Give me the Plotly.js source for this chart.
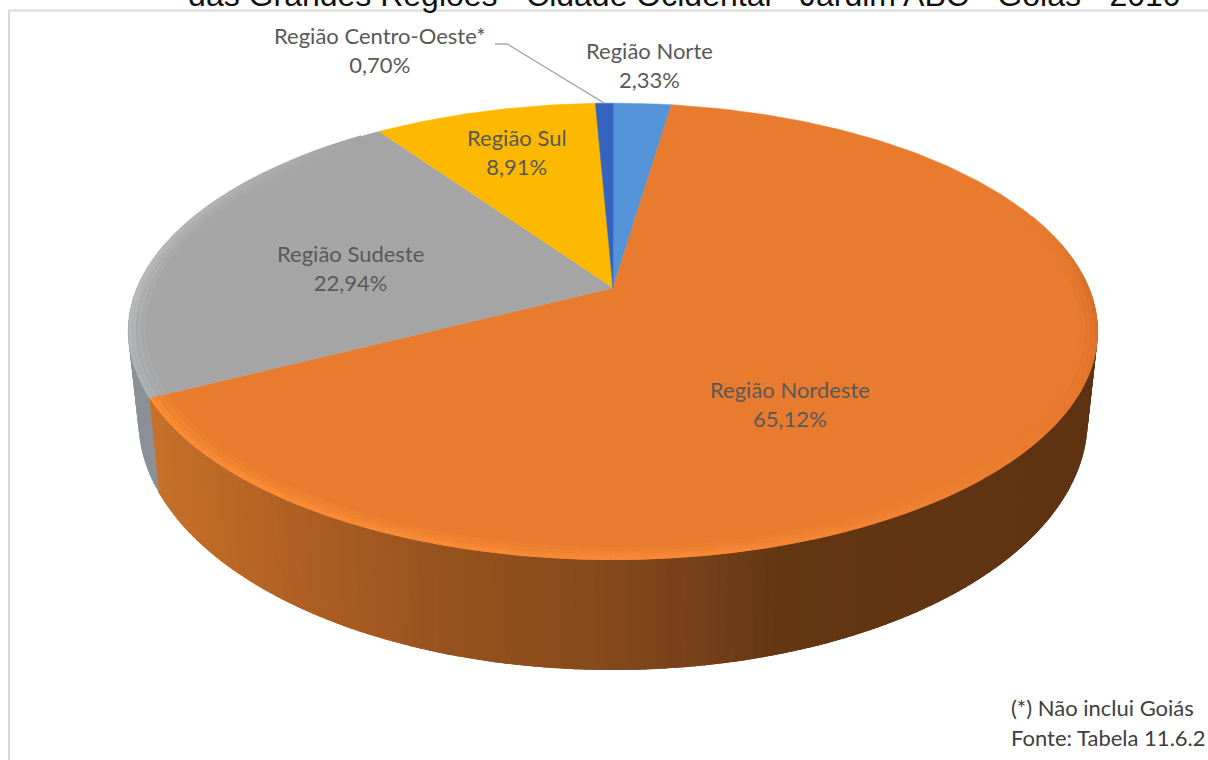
<!DOCTYPE html>
<html><head><meta charset="utf-8">
<script src="https://cdn.plot.ly/plotly-3.0.1.min.js"></script>
<style>html,body{margin:0;padding:0;background:#fff;overflow:hidden}#chart{width:1208px;height:760px}</style>
</head><body><div id="chart"></div>
<script>
const categories = ["Região Norte","Região Nordeste","Região Sudeste","Região Sul","Região Centro-Oeste*"];
const shares = [2.33,65.12,22.94,8.91,0.70];
const topColors = ["#5593D8","#E97B2E","#A5A5A5","#FCB900","#3464C0"];
const wallColors = ["#3f6c9c","#8a4a1c","#8b9096","#a07a00","#254a90"];
const titleText = "das Grandes Regiões - Cidade Ocidental - Jardim ABC - Goiás - 2010";
const footLines = ["(*) Não inclui Goiás","Fonte: Tabela 11.6.2"];
const labelX = [649,790,350,517,380];
const labelY = [65,404,268,152,50];

const cx=613, k=0.19;
const topFace={y0:288,A:476,B:220};
const lowFace={y0:372.5,A:466,B:241};
function proj(face,deg,r){
  const t=deg*Math.PI/180,u=r*Math.sin(t),v=r*Math.cos(t),d=1+k*v;
  return [cx+face.A*u/d, face.y0-face.B*v/d];
}
function range(a,b,n){const o=[];for(let i=0;i<=n;i++)o.push(a+(b-a)*i/n);return o;}
const edges=[0];shares.forEach(s=>edges.push(edges[edges.length-1]+s*3.6));
const traces=[];
function poly(pts,color,width){
  traces.push({type:"scatter",mode:"lines",x:pts.map(p=>p[0]),y:pts.map(p=>p[1]),
    fill:"toself",fillcolor:color,line:{color:color,width:width},hoverinfo:"skip",showlegend:false});
}
function path(pts,color,width){
  traces.push({type:"scatter",mode:"lines",x:pts.map(p=>p[0]),y:pts.map(p=>p[1]),
    line:{color:color,width:width},hoverinfo:"skip",showlegend:false});
}
function interp(stops,x,fade){
  let c=stops[stops.length-1][1];
  if(x<=stops[0][0]) c=stops[0][1];
  else for(let i=1;i<stops.length;i++){ if(x<=stops[i][0]){const f=(x-stops[i-1][0])/(stops[i][0]-stops[i-1][0]);
    c=stops[i-1][1].map((a,j)=>a+(stops[i][1][j]-a)*f);break;}}
  if(fade) c=c.map((a,j)=>a+(fade[1][j]-a)*fade[0]);
  return `rgb(${c.map(Math.round)})`;
}
// wall colour ramp along the front of the cylinder
const ramp=[[140,[200,114,42]],[300,[174,95,34]],[450,[150,82,30]],[600,[133,73,28]],[700,[118,64,26]],[780,[100,54,18]],[1110,[94,50,18]]];
// side wall: drawn in overlapping strips so no seams show
for(let s=0;s<shares.length;s++){
  const a=edges[s],b=edges[s+1],n=Math.max(1,Math.round(b-a));
  const th=range(a,b,n);
  for(let i=0;i<n;i++){
    const mid=(th[i]+th[i+1])/2;
    if(Math.cos(mid*Math.PI/180)>0.25) continue;
    const q=proj(topFace,mid,1);
    const col=s===1?interp(ramp,q[0]):wallColors[s];
    const e=Math.min(th[i+1]+1.2,edges[s+1]+0.2);
    poly([proj(topFace,th[i],1),proj(topFace,e,1),proj(lowFace,e,1),proj(lowFace,th[i],1)],col,0);
  }
}
// top faces
for(let s=0;s<shares.length;s++){
  const a=edges[s],b=edges[s+1],n=Math.max(2,Math.round(b-a));
  const pts=[proj(topFace,0,0)].concat(range(a,b,n).map(t=>proj(topFace,t,1)));
  pts.push(pts[0]);
  poly(pts,topColors[s],0.5);
}
// soft bevel along the rim of the top face, fading into the slice colour
const baseOrange=[233,123,46], baseGray=[165,165,165];
const bevelOrange=[[70,[233,123,46]],[95,[214,110,42]],[125,[233,123,46]],[170,[246,136,54]],[edges[2],[250,142,52]]];
const bevelGray=[[edges[2],[170,178,182]],[268,[186,186,186]],[300,[176,176,176]],[320,[165,165,165]]];
function bevel(stops,base,a,b,r,w,fade){
  const n=Math.round((b-a)/3),th=range(a,b,n);
  for(let i=0;i<n;i++) path([proj(topFace,th[i],r),proj(topFace,th[i+1],r)],interp(stops,(th[i]+th[i+1])/2,[fade,base]),w);
}
[[0.968,0.75],[0.978,0.5],[0.988,0.25],[0.996,0]].forEach(p=>{
  bevel(bevelOrange,baseOrange,70,edges[2],p[0],3.5,p[1]);
  bevel(bevelGray,baseGray,edges[2],edges[3]-3,p[0],3.5,p[1]);
});

const annotations=categories.map((c,i)=>({xref:"x",yref:"y",x:labelX[i],y:labelY[i],xanchor:"center",yanchor:"middle",showarrow:false,
  text:c+"<br>"+shares[i].toFixed(2).replace(".",",")+"%",font:{family:"Lato, Carlito, sans-serif",size:22,color:"#595959"}}));
footLines.forEach((t,i)=>annotations.push({xref:"x",yref:"y",x:1009,y:707+30*i,xanchor:"left",yanchor:"middle",showarrow:false,text:t,
  font:{family:"Lato, Carlito, sans-serif",size:22,color:"#404040"}}));
// leader line
const tip=proj(topFace,edges[4]+shares[4]*1.8,1);
traces.push({type:"scatter",mode:"lines",x:[495,507,tip[0]],y:[44,44,tip[1]],line:{color:"#a6a6a6",width:1.3},hoverinfo:"skip",showlegend:false});
const layout={width:1208,height:760,margin:{l:0,r:0,t:0,b:0},paper_bgcolor:"#fff",plot_bgcolor:"#fff",showlegend:false,
  title:{text:titleText,x:0.5665,xanchor:"center",y:0.9915,yanchor:"bottom",font:{family:"Liberation Sans, Arial, sans-serif",size:32,color:"#111"}},
  xaxis:{range:[0,1208],visible:false,fixedrange:true},
  yaxis:{range:[760,0],visible:false,fixedrange:true},
  annotations:annotations,
  shapes:[{type:"line",xref:"x",yref:"y",x0:9,x1:9,y0:10,y1:760,line:{color:"#d9d9d9",width:2}},
          {type:"line",xref:"x",yref:"y",x0:8,x1:1208,y0:10.5,y1:10.5,line:{color:"#d9d9d9",width:2}}]};
Plotly.newPlot("chart",traces,layout,{displayModeBar:false,staticPlot:true});
</script></body></html>
